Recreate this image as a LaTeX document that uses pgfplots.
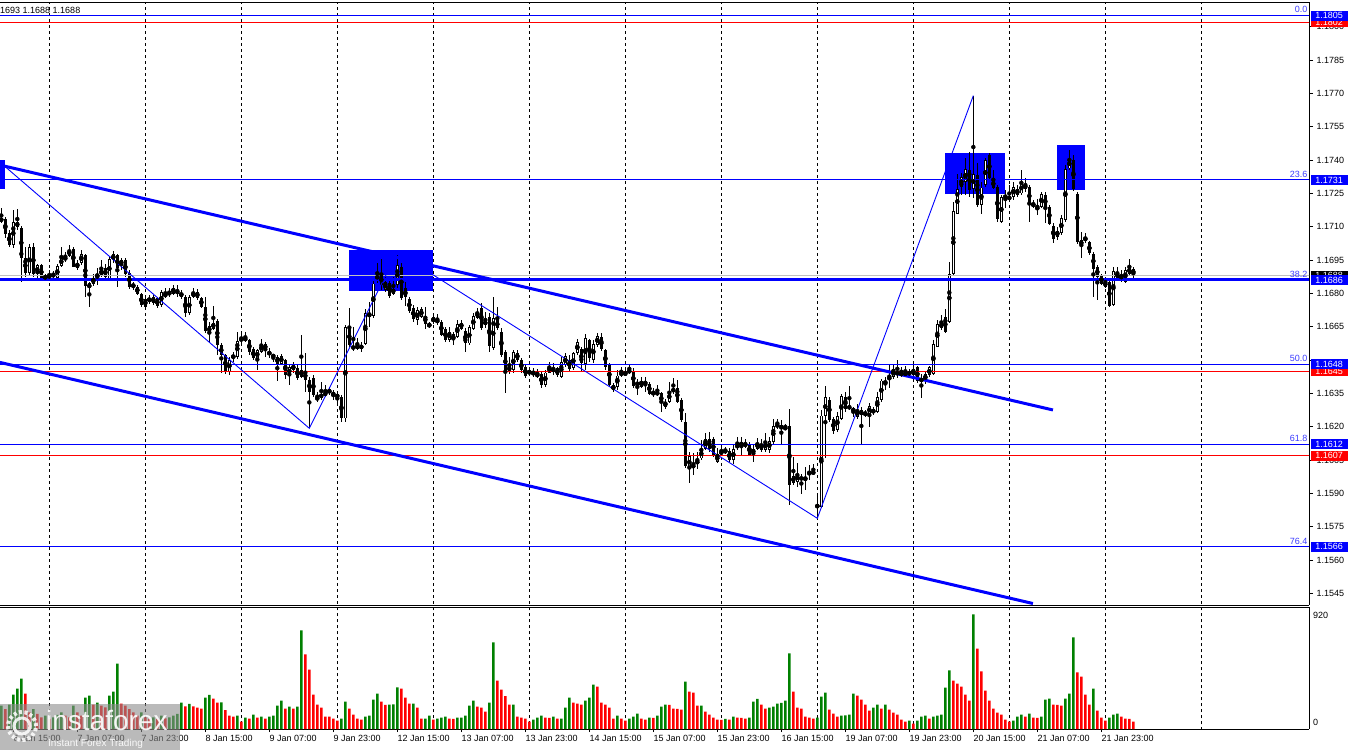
\documentclass[border=0pt]{standalone}
\usepackage{pgfplots}
\pgfplotsset{compat=1.18}
\usepackage{pgfplotstable}
\usepackage{fontspec}
\setmainfont{Liberation Sans}
\definecolor{mtblue}{RGB}{0,0,255}
\definecolor{mtred}{RGB}{255,0,0}
\definecolor{mtgreen}{RGB}{0,128,0}
\definecolor{mtgray}{RGB}{192,192,192}
\definecolor{fibblue}{RGB}{60,60,255}
\newcommand{\lab}{\fontsize{9}{10}\selectfont}

\pgfplotstableread{
n o h l c
0 1.17127 1.171825 1.17118 1.17136
1 1.17136 1.17145 1.17052 1.1707
2 1.1707 1.17085 1.1701 1.170175
3 1.170175 1.17178 1.17007 1.171225
4 1.171225 1.171825 1.17088 1.17097
5 1.17097 1.17103 1.168525 1.169605
6 1.169605 1.1701 1.16875 1.1689
7 1.1689 1.17022 1.16878 1.1701
8 1.1701 1.17025 1.16875 1.16887
9 1.16887 1.16935 1.1686 1.169275
10 1.169275 1.16935 1.16857 1.168675
11 1.16878 1.16887 1.16857 1.168675
12 1.168675 1.16905 1.1686 1.16887
13 1.16887 1.16902 1.168675 1.16875
14 1.168675 1.16935 1.16863 1.16923
15 1.16923 1.1701 1.16917 1.16962
16 1.1695 1.169875 1.169425 1.16965
17 1.16968 1.170175 1.16962 1.16995
18 1.16998 1.1701 1.16917 1.1692
19 1.169125 1.1695 1.16908 1.16938
20 1.16935 1.16995 1.169275 1.16977
21 1.169725 1.16977 1.16785 1.16833
22 1.16845 1.168525 1.1674 1.168225
23 1.16842 1.16887 1.16833 1.16872
24 1.16872 1.169125 1.168375 1.16887
25 1.168825 1.1695 1.16875 1.169095
26 1.169125 1.16935 1.1686 1.16875
27 1.168675 1.16968 1.16857 1.16956
28 1.1695 1.16992 1.16935 1.16977
29 1.169725 1.1698 1.1683 1.169125
30 1.169275 1.169575 1.16905 1.1695
31 1.1695 1.169575 1.16875 1.1689
32 1.16893 1.16905 1.168225 1.1683
33 1.16842 1.168525 1.16815 1.1683
34 1.1683 1.168375 1.167925 1.168
35 1.16797 1.168 1.1674 1.167475
36 1.16773 1.16785 1.167325 1.1674
37 1.167625 1.167925 1.16755 1.16782
38 1.16782 1.167925 1.167475 1.16758
39 1.167775 1.16785 1.167325 1.16743
40 1.167475 1.16815 1.1674 1.168045
41 1.16785 1.168225 1.167775 1.168
42 1.167925 1.168225 1.16785 1.168075
43 1.168 1.168375 1.167925 1.16827
44 1.16815 1.168375 1.16785 1.168
45 1.16803 1.16815 1.167775 1.16785
46 1.16785 1.167925 1.16695 1.16713
47 1.16713 1.167925 1.167025 1.16782
48 1.16785 1.168225 1.167775 1.168075
49 1.168045 1.168225 1.1677 1.167805
50 1.167775 1.16785 1.167325 1.1674
51 1.1674 1.16785 1.1662 1.166305
52 1.166245 1.166725 1.16575 1.166545
53 1.166425 1.167445 1.16635 1.166695
54 1.166755 1.166845 1.165225 1.165675
55 1.165675 1.16575 1.1644 1.165225
56 1.165225 1.1653 1.1644 1.164505
57 1.164475 1.16515 1.164325 1.165
58 1.165075 1.165375 1.164925 1.165225
59 1.16515 1.166275 1.165075 1.16587
60 1.166005 1.1662 1.16575 1.165855
61 1.165855 1.166245 1.165795 1.166035
62 1.1659 1.165975 1.165225 1.165375
63 1.165495 1.1656 1.165 1.165075
64 1.165075 1.165525 1.16455 1.16545
65 1.165375 1.165975 1.165345 1.165705
66 1.16575 1.165825 1.16515 1.16545
67 1.165405 1.165525 1.165075 1.165225
68 1.165135 1.1653 1.164925 1.165225
69 1.165135 1.165225 1.164055 1.16485
70 1.16485 1.1653 1.164775 1.165195
71 1.165 1.165075 1.164175 1.164325
72 1.164325 1.16485 1.163875 1.1647
73 1.16455 1.164925 1.1644 1.16482
74 1.164625 1.164775 1.1641 1.164205
75 1.16455 1.166125 1.164175 1.16425
76 1.164505 1.1653 1.163575 1.1641
77 1.1641 1.16425 1.161925 1.163575
78 1.164205 1.164325 1.16335 1.163425
79 1.16335 1.163575 1.163125 1.1632
80 1.163305 1.164025 1.1632 1.1635
81 1.163425 1.163875 1.16335 1.163545
82 1.1635 1.1638 1.163425 1.163695
83 1.163425 1.16365 1.1632 1.163515
84 1.163455 1.163575 1.162975 1.163305
85 1.16335 1.163425 1.162225 1.162375
86 1.162375 1.166575 1.162225 1.1665
87 1.166425 1.167325 1.1656 1.165675
88 1.165495 1.1665 1.165405 1.165645
89 1.165675 1.165975 1.16545 1.165525
90 1.165495 1.165825 1.165375 1.165705
91 1.165705 1.167325 1.165675 1.1671
92 1.1671 1.167625 1.1665 1.16695
93 1.166995 1.168675 1.166875 1.16845
94 1.1686 1.16935 1.16845 1.168855
95 1.168855 1.169575 1.16815 1.168375
96 1.16815 1.16875 1.168075 1.168495
97 1.168495 1.168675 1.167805 1.167895
98 1.168 1.16875 1.167925 1.168225
99 1.168375 1.16975 1.168225 1.169275
100 1.1692 1.16935 1.1677 1.167805
101 1.168225 1.168525 1.167445 1.16785
102 1.167775 1.16785 1.1671 1.167205
103 1.167355 1.167475 1.166725 1.166845
104 1.1668 1.1674 1.166575 1.16725
105 1.16695 1.1674 1.166905 1.167295
106 1.166995 1.1674 1.166425 1.16665
107 1.1665 1.166725 1.166455 1.16665
108 1.166695 1.167025 1.16665 1.16692
109 1.166785 1.1671 1.166575 1.166725
110 1.166725 1.1668 1.166095 1.166155
111 1.166395 1.1665 1.165825 1.1659
112 1.1659 1.1665 1.165825 1.166275
113 1.166155 1.166275 1.165675 1.1659
114 1.16605 1.1668 1.165975 1.166605
115 1.166425 1.1668 1.16635 1.166695
116 1.166305 1.166425 1.165375 1.16575
117 1.16575 1.166575 1.165675 1.1665
118 1.166425 1.1671 1.16635 1.166995
119 1.166905 1.167355 1.166845 1.167175
120 1.167355 1.16755 1.16635 1.166455
121 1.166575 1.167175 1.166425 1.16677
122 1.16695 1.1671 1.165375 1.165645
123 1.165525 1.16785 1.16545 1.166875
124 1.1668 1.1674 1.16635 1.166425
125 1.166275 1.166425 1.16515 1.165225
126 1.165375 1.16545 1.1635 1.164505
127 1.164505 1.16515 1.1644 1.164745
128 1.16455 1.16545 1.1644 1.165345
129 1.165345 1.16545 1.164925 1.165
130 1.165 1.165075 1.1644 1.16455
131 1.1647 1.164775 1.164175 1.16428
132 1.1644 1.164625 1.164295 1.164505
133 1.164475 1.164625 1.16425 1.164325
134 1.16425 1.164595 1.164175 1.1644
135 1.1644 1.164475 1.163725 1.163875
136 1.163875 1.16455 1.1638 1.164445
137 1.164445 1.164925 1.1644 1.164745
138 1.164475 1.164895 1.164325 1.164655
139 1.164625 1.1647 1.16425 1.164325
140 1.16425 1.16515 1.164205 1.164895
141 1.164775 1.1653 1.1647 1.165195
142 1.165 1.165225 1.164475 1.164595
143 1.164625 1.165375 1.16455 1.1653
144 1.1653 1.165975 1.165225 1.165825
145 1.16548 1.1656 1.164475 1.16485
146 1.16485 1.16617 1.16455 1.16602
147 1.1659 1.165975 1.164925 1.165075
148 1.165 1.1659 1.16488 1.16572
149 1.165675 1.1662 1.1656 1.166095
150 1.16605 1.16623 1.16542 1.16548
151 1.16545 1.165525 1.16458 1.1647
152 1.16482 1.16488 1.1638 1.163905
153 1.163875 1.16395 1.163575 1.16365
154 1.1638 1.16455 1.16365 1.164295
155 1.164325 1.1647 1.16425 1.164445
156 1.164355 1.16455 1.16428 1.16443
157 1.16455 1.16485 1.16437 1.16443
158 1.16452 1.164625 1.163725 1.16383
159 1.163875 1.164175 1.163425 1.16398
160 1.1638 1.16422 1.163725 1.16407
161 1.16401 1.16422 1.163575 1.16395
162 1.16395 1.164025 1.163425 1.1635
163 1.163575 1.163725 1.16335 1.163425
164 1.16353 1.163875 1.16338 1.16347
165 1.1635 1.163575 1.162675 1.16305
166 1.1629 1.163275 1.162825 1.163095
167 1.163125 1.164025 1.16305 1.163575
168 1.16371 1.16422 1.1635 1.163575
169 1.163725 1.1641 1.16305 1.163125
170 1.1632 1.163275 1.162225 1.1623
171 1.162225 1.1626 1.160125 1.16023
172 1.160125 1.160875 1.15945 1.16068
173 1.160125 1.1608 1.159825 1.16032
174 1.16035 1.160875 1.160125 1.16047
175 1.160575 1.1614 1.1605 1.160995
176 1.161025 1.1617 1.16095 1.161445
177 1.161445 1.161775 1.160875 1.16098
178 1.161475 1.16155 1.16065 1.160725
179 1.160425 1.161025 1.16035 1.16077
180 1.160875 1.1611 1.160725 1.1608
181 1.16083 1.1611 1.16077 1.16095
182 1.160905 1.161025 1.160425 1.1605
183 1.1605 1.161175 1.16035 1.160995
184 1.161025 1.16155 1.16095 1.16122
185 1.161175 1.16152 1.160725 1.161295
186 1.16113 1.16143 1.161025 1.16125
187 1.16122 1.161325 1.16068 1.160725
188 1.1608 1.161175 1.160425 1.160995
189 1.161025 1.161475 1.16095 1.161295
190 1.16125 1.161475 1.160875 1.16095
191 1.16095 1.1617 1.160875 1.161325
192 1.16095 1.16155 1.16083 1.16137
193 1.161325 1.162375 1.16125 1.162045
194 1.162 1.162375 1.161925 1.16212
195 1.162075 1.1623 1.161175 1.16188
196 1.162 1.16215 1.16185 1.16188
197 1.16203 1.162825 1.158475 1.159405
198 1.15945 1.16065 1.159375 1.159795
199 1.159525 1.16035 1.1593 1.1599
200 1.15975 1.1599 1.159 1.1596
201 1.1596 1.1602 1.15915 1.15972
202 1.159825 1.160275 1.1596 1.159975
203 1.159975 1.16032 1.159825 1.1599
204 1.158325 1.159 1.157875 1.15852
205 1.1584 1.16275 1.158325 1.162495
206 1.162495 1.16383 1.160575 1.16332
207 1.1632 1.16335 1.162225 1.16233
208 1.16233 1.16245 1.1617 1.161805
209 1.16185 1.162675 1.161775 1.162495
210 1.162375 1.1635 1.16233 1.163395
211 1.16335 1.163575 1.162675 1.16278
212 1.162825 1.16383 1.16275 1.16293
213 1.162825 1.1629 1.16245 1.162675
214 1.16245 1.16305 1.162375 1.16275
215 1.16275 1.1629 1.161175 1.162525
216 1.16263 1.16275 1.16245 1.162525
217 1.16257 1.16305 1.162 1.16293
218 1.16278 1.1629 1.162525 1.1626
219 1.162675 1.163575 1.1626 1.16332
220 1.1632 1.164175 1.163125 1.16407
221 1.164025 1.16425 1.16365 1.16395
222 1.1641 1.164775 1.163725 1.164295
223 1.16425 1.16485 1.164175 1.164595
224 1.164325 1.165 1.16422 1.164475
225 1.16443 1.1647 1.16425 1.164325
226 1.164325 1.16473 1.16425 1.164445
227 1.164475 1.164625 1.16422 1.164325
228 1.164325 1.164775 1.16425 1.164595
229 1.1647 1.16473 1.16395 1.16407
230 1.164145 1.1644 1.16332 1.16407
231 1.1641 1.164475 1.16395 1.16437
232 1.164325 1.16473 1.16425 1.16467
233 1.1644 1.1659 1.164325 1.16572
234 1.1656 1.1668 1.16557 1.16662
235 1.16668 1.167025 1.16635 1.166425
236 1.16692 1.167325 1.16623 1.166275
237 1.166725 1.169425 1.16665 1.16887
238 1.1689 1.172125 1.168825 1.171705
239 1.1716 1.173355 1.171555 1.172695
240 1.1728 1.1734 1.172425 1.17325
241 1.173025 1.174075 1.172425 1.173595
242 1.17355 1.174375 1.17235 1.17265
243 1.172725 1.176895 1.172275 1.17337
244 1.173325 1.17385 1.1719 1.172005
245 1.171975 1.173025 1.1716 1.17277
246 1.172875 1.174075 1.1728 1.174
247 1.174225 1.1743 1.173145 1.173205
248 1.173145 1.17355 1.172695 1.172725
249 1.1728 1.172875 1.171225 1.17133
250 1.171225 1.172425 1.17115 1.17232
251 1.172275 1.17265 1.171855 1.172425
252 1.17235 1.172875 1.172125 1.17223
253 1.17235 1.173025 1.1722 1.1728
254 1.172425 1.172875 1.17235 1.172695
255 1.1725 1.17355 1.172425 1.172995
256 1.172905 1.173175 1.172575 1.172725
257 1.1728 1.172875 1.171225 1.171975
258 1.17205 1.1722 1.171825 1.17193
259 1.171825 1.172275 1.171525 1.171855
260 1.1719 1.172575 1.171825 1.17247
261 1.172425 1.172545 1.17115 1.171855
262 1.1719 1.171975 1.171075 1.171105
263 1.171045 1.17115 1.17025 1.17043
264 1.17055 1.171 1.1704 1.17082
265 1.1707 1.171525 1.170625 1.171375
266 1.1713 1.173775 1.171225 1.173595
267 1.173625 1.17445 1.17355 1.174045
268 1.174 1.174225 1.172605 1.17268
269 1.1725 1.172575 1.17025 1.170325
270 1.170175 1.170775 1.169575 1.1704
271 1.170505 1.1707 1.17025 1.1704
272 1.170295 1.170355 1.169725 1.1698
273 1.1698 1.169875 1.16785 1.169125
274 1.1692 1.169275 1.1677 1.16875
275 1.168825 1.1689 1.168375 1.16845
276 1.1683 1.16875 1.168255 1.168525
277 1.168525 1.1686 1.1674 1.167445
278 1.167475 1.1692 1.167445 1.16902
279 1.168675 1.1692 1.1686 1.168945
280 1.168855 1.16905 1.168525 1.16863
281 1.168525 1.1692 1.16848 1.16905
282 1.1689 1.169575 1.168825 1.16917
283 1.169125 1.1692 1.168625 1.168825
}\candles

\pgfplotstableread{
n v g
0 188 1
1 161 0
2 196 1
3 277 1
4 325 1
5 406 1
6 285 0
7 134 0
8 161 1
9 121 0
10 94 0
11 108 1
12 81 0
13 94 1
14 113 1
15 134 1
16 108 0
17 94 0
18 188 1
19 134 0
20 108 0
21 253 1
22 269 1
23 196 0
24 212 1
25 188 0
26 175 0
27 269 1
28 301 1
29 527 1
30 204 0
31 188 0
32 161 0
33 134 0
34 108 0
35 134 1
36 94 0
37 81 0
38 94 1
39 81 0
40 108 1
41 86 0
42 94 1
43 108 1
44 121 1
45 212 1
46 183 0
47 202 1
48 183 0
49 172 0
50 164 0
51 253 1
52 274 1
53 245 0
54 212 0
55 214 1
56 153 0
57 108 0
58 100 0
59 108 1
60 59 0
61 91 1
62 83 0
63 116 1
64 91 0
65 100 1
66 83 0
67 100 1
68 108 1
69 188 1
70 229 1
71 164 0
72 180 1
73 164 0
74 180 1
75 794 1
76 600 0
77 479 0
78 277 0
79 196 0
80 172 0
81 100 0
82 99 0
83 83 0
84 67 0
85 83 1
86 221 1
87 164 0
88 116 0
89 83 0
90 75 0
91 100 1
92 108 1
93 237 1
94 285 1
95 221 0
96 194 0
97 196 1
98 198 1
99 336 1
100 325 0
101 253 0
102 204 0
103 205 1
104 172 0
105 83 0
106 84 1
107 108 1
108 75 0
109 83 1
110 91 1
111 100 1
112 83 0
113 82 0
114 91 1
115 92 1
116 108 1
117 188 1
118 229 1
119 180 0
120 172 0
121 140 0
122 212 1
123 697 1
124 390 0
125 317 0
126 264 0
127 196 0
128 197 1
129 100 0
130 91 0
131 83 0
132 59 0
133 75 1
134 91 1
135 108 1
136 91 0
137 90 0
138 100 1
139 83 0
140 84 1
141 172 1
142 253 1
143 212 0
144 204 0
145 196 0
146 229 1
147 253 1
148 358 1
149 342 0
150 212 0
151 196 0
152 172 0
153 83 0
154 108 1
155 83 0
156 67 0
157 83 1
158 100 1
159 124 1
160 83 0
161 75 0
162 91 1
163 90 0
164 108 1
165 180 1
166 196 1
167 195 0
168 164 0
169 163 0
170 156 0
171 382 1
172 301 0
173 293 0
174 188 0
175 189 1
176 140 0
177 116 0
178 91 0
179 75 0
180 74 0
181 81 1
182 75 0
183 100 1
184 91 0
185 90 0
186 83 0
187 91 1
188 221 1
189 242 1
190 196 0
191 164 0
192 172 1
193 180 1
194 204 1
195 210 1
196 229 1
197 608 1
198 301 0
199 172 0
200 164 0
201 100 0
202 91 0
203 83 0
204 91 1
205 261 1
206 293 1
207 156 0
208 124 0
209 100 0
210 108 1
211 109 1
212 116 1
213 285 1
214 269 0
215 237 0
216 196 0
217 148 0
218 172 1
219 196 1
220 164 0
221 196 1
222 156 0
223 132 0
224 116 0
225 75 0
226 59 0
227 67 1
228 43 0
229 67 1
230 100 1
231 108 1
232 83 0
233 100 1
234 108 1
235 116 1
236 334 1
237 471 1
238 390 0
239 366 0
240 342 0
241 277 0
242 229 0
243 923 1
244 648 0
245 463 0
246 309 0
247 229 0
248 164 0
249 132 0
250 116 0
251 75 0
252 59 0
253 67 1
254 100 1
255 116 1
256 100 0
257 124 1
258 91 0
259 90 0
260 100 1
261 237 1
262 245 1
263 196 0
264 195 0
265 188 0
266 245 1
267 285 1
268 737 1
269 455 0
270 422 0
271 277 0
272 196 0
273 325 1
274 148 0
275 91 0
276 67 0
277 91 1
278 116 1
279 124 1
280 100 0
281 83 0
282 82 0
283 59 0
}\vols

\begin{document}
\begin{tikzpicture}[x=1pt,y=1pt]
\useasboundingbox (0,0) rectangle (1350,-750);
\fill[white] (0,0) rectangle (1350,-750);

% ---------------- price panel ----------------
\begin{axis}[
  at={(0pt,-2pt)}, anchor=north west, scale only axis,
  width=1309pt, height=603pt,
  xmin=-0.325, xmax=326.925, ymin=1.153973, ymax=1.181108,
  axis x line=box, axis y line=right,
  axis line style={-, black, line width=0.8pt},
  xtick=\empty,
  ytick={1.1545,1.1560,1.1575,1.1590,1.1605,1.1620,1.1635,1.1650,1.1665,1.1680,1.1695,1.1710,1.1725,1.1740,1.1755,1.1770,1.1785,1.1800},
  yticklabels={1.1545,1.1560,1.1575,1.1590,1.1605,1.1620,1.1635,{},1.1665,1.1680,1.1695,1.1710,1.1725,1.1740,1.1755,1.1770,1.1785,1.1800},
  yticklabel pos=right,
  tick align=outside, major tick length=4pt,
  ytick style={black, line width=0.8pt},
  yticklabel style={font=\lab, anchor=west},
]
% grid
\pgfplotsinvokeforeach{12,36,60,84,108,132,156,180,204,228,252,276,300}{
  \addplot[black, line width=0.8pt, dash pattern=on 3pt off 3pt] coordinates {(#1,1.1535) (#1,1.1815)};
}
% rectangles
\addplot[fill=mtblue, draw=none] coordinates {(-0.4,1.17400) (0.93,1.17400) (0.93,1.17268) (-0.4,1.17268)} -- cycle;
\addplot[fill=mtblue, draw=none] coordinates {(86.9,1.16995) (108.0,1.16995) (108.0,1.16812) (86.9,1.16812)} -- cycle;
\addplot[fill=mtblue, draw=none] coordinates {(235.9,1.17430) (250.9,1.17430) (250.9,1.17246) (235.9,1.17246)} -- cycle;
\addplot[fill=mtblue, draw=none] coordinates {(263.9,1.17467) (270.85,1.17467) (270.85,1.17266) (263.9,1.17266)} -- cycle;
% candles: wicks
\addplot[only marks, mark=none, error bars/.cd, y dir=both, y explicit, error mark=none,
  error bar style={line width=1pt, black}]
  table[x=n, y expr={(\thisrow{h}+\thisrow{l})/2}, y error expr={(\thisrow{h}-\thisrow{l})/2}] {\candles};
% bodies
\addplot[only marks, mark=none, error bars/.cd, y dir=both, y explicit, error mark=none,
  error bar style={line width=3pt, black}]
  table[x=n, y expr={(\thisrow{o}+\thisrow{c})/2}, y error expr={max(abs(\thisrow{o}-\thisrow{c})/2,0.00002)}] {\candles};
% hollow bullish bodies
\addplot[only marks, mark=none, error bars/.cd, y dir=both, y explicit, error mark=none,
  error bar style={line width=1.2pt, white}]
  table[x=n, y expr={(\thisrow{o}+\thisrow{c})/2}, y error expr={(\thisrow{c}>\thisrow{o})*max((\thisrow{c}-\thisrow{o})/2-0.00004,0)}] {\candles};
% horizontal levels
\addplot[mtgray, line width=1pt] coordinates {(-1,1.1688) (330,1.1688)};
\addplot[mtred, line width=1pt] coordinates {(-1,1.1802) (330,1.1802)};
\addplot[mtred, line width=1pt] coordinates {(-1,1.1645) (330,1.1645)};
\addplot[mtred, line width=1pt] coordinates {(-1,1.1607) (330,1.1607)};
\addplot[mtblue, line width=1pt] coordinates {(-1,1.1805) (330,1.1805)};
\addplot[mtblue, line width=1pt] coordinates {(-1,1.1731) (330,1.1731)};
\addplot[mtblue, line width=3pt] coordinates {(-1,1.1686) (330,1.1686)};
\addplot[mtblue, line width=1pt] coordinates {(-1,1.1648) (330,1.1648)};
\addplot[mtblue, line width=1pt] coordinates {(-1,1.1612) (330,1.1612)};
\addplot[mtblue, line width=1pt] coordinates {(-1,1.1566) (330,1.1566)};
% channel
\addplot[mtblue, line width=3pt] coordinates {(-0.33,1.17377) (262.9,1.16275)};
\addplot[mtblue, line width=3pt] coordinates {(-0.33,1.16489) (257.9,1.15404)};
% zigzag
\addplot[mtblue, line width=0.9pt] coordinates {(0.5,1.17377) (77,1.161925) (99,1.16985) (204,1.157875) (243,1.176895)};
\end{axis}

% ---------------- volume panel ----------------
\begin{axis}[
  at={(0pt,-607pt)}, anchor=north west, scale only axis,
  width=1309pt, height=122pt,
  xmin=-0.325, xmax=326.925, ymin=0, ymax=982,
  axis x line=box, axis y line=right,
  axis line style={-, black, line width=0.8pt},
  ytick=\empty,
  xtick={3,19,35,51,67,83,99,115,131,147,163,179,195,211,227,243,259,275},
  xticklabels={6 Jan 15:00,7 Jan 07:00,7 Jan 23:00,8 Jan 15:00,9 Jan 07:00,9 Jan 23:00,12 Jan 15:00,13 Jan 07:00,13 Jan 23:00,14 Jan 15:00,15 Jan 07:00,15 Jan 23:00,16 Jan 15:00,19 Jan 07:00,19 Jan 23:00,20 Jan 15:00,21 Jan 07:00,21 Jan 23:00},
  xtick pos=bottom,
  tick align=outside, major tick length=3pt,
  xtick style={black, line width=0.8pt},
  xticklabel style={font=\lab, anchor=north west, inner sep=0pt, yshift=-3pt},
]
\pgfplotsinvokeforeach{12,36,60,84,108,132,156,180,204,228,252,276,300}{
  \addplot[black, line width=0.8pt, dash pattern=on 3pt off 3pt] coordinates {(#1,-10) (#1,1000)};
}
\addplot[ybar, bar width=2.5pt, bar shift=0pt, fill=mtgreen, draw=none]
  table[x=n, y expr={\thisrow{v}*\thisrow{g}}] {\vols};
\addplot[ybar, bar width=2.5pt, bar shift=0pt, fill=mtred, draw=none]
  table[x=n, y expr={\thisrow{v}*(1-\thisrow{g})}] {\vols};
\end{axis}

% ---------------- annotations ----------------
\node[anchor=west, inner sep=0pt, font=\lab] at (0,-10.5) {1693 1.1688 1.1688};

% fib labels
\foreach \yy/\tt in {13/0.0, 177.5/23.6, 277.5/38.2, 362/50.0, 442/61.8, 544.3/76.4}{
  \node[anchor=south east, inner sep=0pt, text=fibblue, font=\lab] at (1307.5,-\yy) {\tt};
}

% price boxes
\tikzset{pbox/.style={anchor=west, inner sep=0pt, minimum width=37pt, minimum height=10pt, text=white, font=\lab}}
\node[pbox, fill=mtred] at (1310.5,-22.2) {1.1802};
\node[pbox, fill=mtblue] at (1310.5,-15.5) {1.1805};
\node[pbox, fill=mtblue] at (1310.5,-180) {1.1731};
\node[pbox, fill=black] at (1310.5,-275.5) {1.1688};
\node[pbox, fill=mtblue] at (1310.5,-280) {1.1686};
\node[pbox, fill=mtred] at (1310.5,-371.1) {1.1645};
\node[pbox, fill=mtblue] at (1310.5,-364.4) {1.1648};
\node[pbox, fill=mtblue] at (1310.5,-444.4) {1.1612};
\node[pbox, fill=mtred] at (1310.5,-455.5) {1.1607};
\node[pbox, fill=mtblue] at (1310.5,-546.6) {1.1566};

% volume scale labels
\node[anchor=west, inner sep=0pt, font=\lab] at (1313,-615) {920};
\node[anchor=west, inner sep=0pt, font=\lab] at (1313,-722) {0};

% watermark
\fill[black!45, opacity=0.6] (0,-704) rectangle (180,-750);
\draw[white, opacity=0.85, line width=3pt] (22,-726) circle (8);
\draw[white, opacity=0.85, line width=4pt, dash pattern=on 3pt off 2.5pt] (22,-726) circle (14);
\node[anchor=base west, inner sep=0pt, text=white, opacity=0.9, font=\fontsize{28}{30}\selectfont] at (46,-730) {instaforex};
\node[anchor=base west, inner sep=0pt, text=white, opacity=0.9, font=\fontsize{10}{12}\selectfont] at (48,-746) {Instant Forex Trading};
\end{tikzpicture}
\end{document}
